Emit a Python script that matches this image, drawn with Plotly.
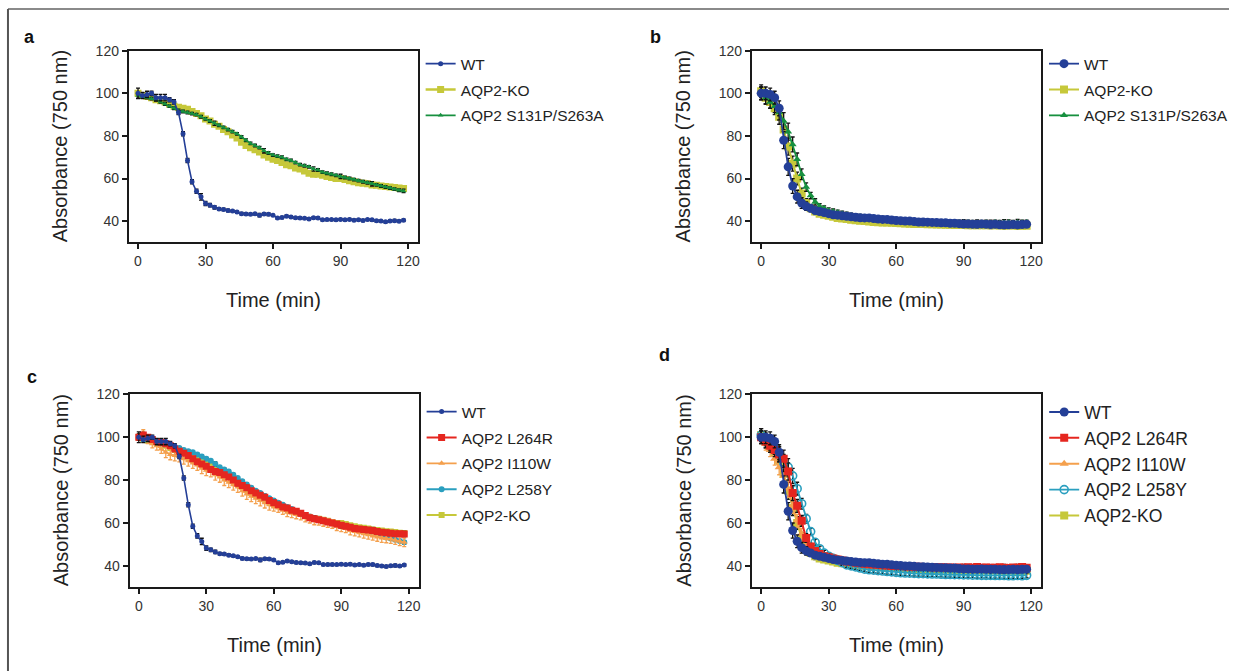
import plotly.graph_objects as go

# ---------------- data ----------------
time_min = [0, 2, 4, 6, 8, 10, 12, 14, 16, 18, 20, 22, 24, 26, 28, 30, 32, 34, 36, 38,
            40, 42, 44, 46, 48, 50, 52, 54, 56, 58, 60, 62, 64, 66, 68, 70, 72, 74, 76, 78,
            80, 82, 84, 86, 88, 90, 92, 94, 96, 98, 100, 102, 104, 106, 108, 110, 112, 114, 116, 118]

# panel a
a_wt = [100, 99, 99.5, 100, 98, 98, 98, 97, 96, 91,
        81, 68.5, 58.5, 54, 51.4, 48.3, 47.5, 46.5, 45.7, 45.5,
        45, 44.7, 44.3, 43.5, 43.3, 43.2, 43.4, 42.8, 43.3, 43.2,
        42.7, 41.5, 41.7, 42.3, 41.9, 41.6, 41.5, 41.3, 41.0, 41.6,
        41.5, 40.6, 40.7, 40.7, 40.6, 40.8, 40.6, 40.8, 40.4, 40.6,
        40.3, 40.7, 40.6, 40.2, 40.0, 39.7, 40.1, 40.2, 39.9, 40.4]
a_ko = [100, 99, 98.5, 98, 97, 96.5, 96, 95, 94, 93.5,
        93, 92.5, 91.5, 90.5, 89.5, 88, 87, 85.5, 84.5, 83,
        82, 80.5, 79, 77, 75.5, 74.5, 73.5, 72.5, 71, 70,
        69, 68.5, 67.5, 66.5, 66, 65, 64.5, 63.5, 62.5, 62,
        62, 61.5, 61, 60.5, 60, 60, 59.5, 59, 58.5, 58,
        57.8, 57.5, 57, 56.8, 56.5, 56.2, 56, 55.8, 55.5, 55.3]
a_s131p = [99, 98.5, 98, 97.5, 97, 96, 95, 94, 93, 92,
           91.5, 91, 90.5, 90, 89, 88, 87, 86, 85, 84,
           83, 82, 81, 79.5, 78, 76.5, 75.5, 74.5, 73, 72,
           71, 70.5, 70, 69, 68.5, 67.5, 66.5, 66, 65.5, 64.5,
           64, 63, 62.5, 62, 61.5, 61, 60.5, 60, 59.5, 59,
           58.5, 58, 57.5, 57, 56.5, 56, 55.5, 55, 54.5, 54.2]

# panel b
b_wt = [100, 100, 99.5, 98, 93, 78, 65.5, 56.5, 51.5, 48.5,
        47, 46, 45, 44.5, 44, 43.5, 43, 42.8, 42.5, 42.3,
        42, 41.8, 41.6, 41.5, 41.5, 41.2, 41, 40.8, 40.8, 40.5,
        40.3, 40.2, 40, 40, 39.8, 39.6, 39.6, 39.5, 39.4, 39.3,
        39.2, 39.2, 39, 39, 38.8, 38.6, 38.6, 38.5, 38.5, 38.6,
        38.5, 38.4, 38.5, 38.3, 38.3, 38.3, 38.4, 38.3, 38.4, 38.5]
b_ko = [101, 98, 96, 93, 89, 83, 75, 67, 60, 53,
        48.5, 46, 44.5, 43.5, 43, 42.5, 42, 41.5, 41.2, 41,
        40.6, 40.4, 40.2, 40, 39.8, 39.6, 39.5, 39.4, 39.3, 39.2,
        39.1, 39, 38.9, 38.8, 38.7, 38.6, 38.6, 38.5, 38.5, 38.4,
        38.4, 38.3, 38.3, 38.2, 38.2, 38.2, 38.1, 38.1, 38.1, 38,
        38, 38, 38, 37.9, 37.9, 37.9, 37.9, 37.8, 37.8, 37.8]
b_s131p = [100, 98, 96, 94, 91, 87, 82, 76, 69, 62,
           56, 52, 49, 47, 46, 45, 44.5, 44, 43.5, 43,
           42.5, 42.2, 42, 41.8, 41.5, 41.3, 41.1, 41, 40.8, 40.6,
           40.5, 40.3, 40.2, 40, 40, 39.8, 39.7, 39.6, 39.5, 39.5,
           39.4, 39.4, 39.3, 39.3, 39.2, 39.2, 39.2, 39.1, 39.1, 39.1,
           39.2, 39.0, 39.3, 39.1, 39.2, 39.4, 39.1, 39.3, 39.2, 39.3]

# panel c
c_wt = a_wt
c_ko = a_ko
c_l264r = [100, 101, 100, 99, 98, 97.5, 97, 96, 94.5, 93.5,
           92.5, 91.5, 90, 88.6, 87.5, 86.5, 85, 84, 83.5, 82.5,
           81.5, 80, 78.5, 77.5, 76.5, 75, 74, 73, 72, 70.5,
           69.5, 68.5, 67.5, 67, 66, 65.5, 64.5, 63.5, 62.5, 62,
           61.5, 61, 60.5, 60, 59.5, 59, 58.5, 58, 57.5, 57.2,
           57, 56.7, 56.5, 56, 55.7, 55.5, 55.2, 55, 55, 54.9]
c_i110w = [100, 102, 99, 97, 96, 94.5, 93, 92, 91.5, 91,
           90, 89, 88, 87, 85.5, 84.6, 84, 82.5, 81.5, 80,
           79, 77.8, 76.8, 75, 73.5, 72.5, 71.5, 70.5, 69.5, 68.5,
           67.5, 67, 66, 65, 64.5, 64, 63.5, 62.5, 62, 61.2,
           61, 60.5, 60, 59.5, 58.5, 58, 57.5, 56.5, 56, 55.5,
           55, 54.5, 54, 53.5, 53, 52.8, 52.5, 52, 51.5, 51]
c_l258y = [100, 99, 99, 98.5, 98, 97, 96.5, 96, 95.5, 95,
           94, 93.5, 93, 92, 91, 90, 89, 87.5, 86, 85,
           84, 82.5, 81, 79.5, 78, 76.5, 75, 74, 72.5, 71.5,
           70.5, 69.5, 68.5, 67.5, 66.5, 65.5, 64.5, 63.7, 63, 62.3,
           62, 61.3, 60.7, 60, 59.5, 59, 58.2, 57.6, 57, 56.5,
           56, 55.5, 55, 54.5, 54, 53.3, 52.8, 52.2, 51.6, 51]

# panel d
d_wt = b_wt
d_ko = b_ko
d_l264r = [100, 98, 96, 94, 92, 90, 84, 74, 68, 61,
           53, 49, 47, 45.5, 44.5, 44, 43.5, 43, 42.5, 42,
           41.8, 41.5, 41.2, 41, 40.8, 40.6, 40.5, 40.3, 40.2, 40,
           40, 39.9, 39.8, 39.7, 39.6, 39.6, 39.5, 39.5, 39.4, 39.4,
           39.4, 39.3, 39.3, 39.1, 39.3, 39.2, 39.4, 39.2, 39.5, 39.2,
           39.3, 39.1, 39.2, 39.4, 39.2, 39.0, 39.3, 39.2, 39.5, 39.1]
d_i110w = [100, 97, 94, 90, 86, 82, 76, 68, 61, 55,
           50, 47.5, 46, 45.5, 45, 44.5, 44, 43.5, 43, 42.5,
           42, 41.7, 41.4, 41.2, 41, 40.8, 40.6, 40.4, 40.2, 40,
           39.9, 39.8, 39.7, 39.6, 39.5, 39.4, 39.3, 39.2, 39.1, 39,
           39, 38.9, 38.9, 38.8, 38.8, 38.7, 38.7, 38.6, 38.6, 38.6,
           38.5, 38.5, 38.5, 38.4, 38.4, 38.4, 38.3, 38.3, 38.3, 38.3]
d_l258y = [101, 99, 97, 95, 92, 88, 86, 82, 76, 69,
           62, 56, 51, 48, 46, 44.5, 43.5, 42.5, 41.5, 40.5,
           40, 39.5, 39, 38.5, 38.2, 38, 37.8, 37.6, 37.4, 37.2,
           37, 36.8, 36.7, 36.6, 36.5, 36.4, 36.4, 36.3, 36.2, 36.2,
           36.1, 36, 36, 35.9, 35.9, 35.8, 35.8, 35.7, 35.7, 35.6,
           35.6, 35.6, 35.5, 35.5, 35.5, 35.4, 35.4, 35.5, 35.4, 35.6]

# error bars (SEM)
err_slow_wt = [2.5, 1.5, 1.5, 1, 1.5, 1.5, 1.5, 1, 1, 1,
               1, 1, 1, 1, 1.5, 1, 0.8, 0.8, 0.6, 0.6,
               0.6, 0.5, 0.5, 0.6, 0.6, 0.5, 0.5, 0.8, 0.5, 0.6,
               0.5, 0.5, 0.5, 0.5, 0.5, 0.5, 0.5, 0.5, 0.5, 0.5,
               0.5, 0.5, 0.5, 0.5, 0.5, 0.5, 0.5, 0.5, 0.5, 0.5,
               0.5, 0.5, 0.6, 0.5, 0.5, 0.5, 0.5, 0.6, 0.5, 0.5]
err_slow_mut = [1.2, 0.8, 0.6, 0.6, 0.6, 0.6, 0.6, 0.6, 0.6, 0.6,
                0.6, 0.6, 0.6, 0.6, 0.6, 0.6, 0.6, 1.0, 0.6, 0.6,
                0.6, 0.6, 0.6, 0.6, 0.6, 0.6, 0.6, 0.6, 1.0, 0.6,
                0.6, 0.6, 0.6, 0.6, 0.6, 0.6, 0.6, 0.6, 0.6, 1.0,
                0.6, 0.6, 0.6, 0.6, 0.6, 1.0, 0.6, 0.6, 0.6, 0.6,
                0.6, 0.6, 1.0, 0.6, 0.6, 0.6, 0.6, 0.6, 0.6, 0.8]
err_red = [1.5, 1.2, 1, 1, 1, 1, 1, 1, 1, 1,
           1, 1, 1, 1, 1, 1, 1, 1, 1, 1,
           1, 1, 1, 1, 1, 1, 1, 1, 1, 1,
           1, 1, 1, 1, 1, 1, 1, 1, 1, 1.2,
           1, 1, 1, 1, 1, 1.2, 1, 1, 1, 1,
           1, 1, 1, 1, 1, 1, 1, 1, 1, 1.2]
err_orange = [1.5, 1.5, 2, 2, 2, 2, 2.5, 2.5, 2.5, 2.5,
              2.5, 2.5, 2.5, 2.5, 2.5, 2.5, 2.5, 2.5, 2.5, 2.5,
              2.5, 2.5, 2.5, 2.5, 2.5, 2.5, 2.5, 2.5, 2.5, 2.5,
              2, 2, 2, 2, 2, 2, 2, 2, 2, 2,
              2, 2, 2, 2, 2, 2, 2, 2, 2, 2,
              2, 2, 2, 2, 2, 2, 2, 2, 2, 2]
err_fast = [3, 3, 3, 3, 3.5, 4, 4, 3.5, 3, 2.5,
            2, 1.5, 1.5, 1.2, 1.2, 1.2, 1.2, 1.2, 1.2, 1.2,
            1.2, 1.2, 1.2, 1.2, 1.2, 1.2, 1.2, 1.2, 1.2, 1.2,
            1.2, 1.2, 1.2, 1.2, 1.2, 1.2, 1.2, 1.2, 1.2, 1.2,
            1.2, 1.2, 1.2, 1.2, 1.2, 1.5, 1.2, 1.2, 1.5, 1.2,
            1.2, 1.5, 1.2, 1.2, 1.5, 1.2, 1.2, 1.5, 1.2, 1.2]

# ---------------- styling ----------------
W, H = 1233, 671
Y_OFF = 8                 # observed vertical offset of the figure in the page
Y_SCALE = 671.0 / 679.0   # observed vertical compression of the captured page
FONT = "Liberation Sans, Arial, Helvetica, sans-serif"
C_WT = "#243f97"
C_KO = "#c6c83a"
C_GREEN = "#17903f"
C_RED = "#e5261f"
C_ORANGE = "#f4a04d"
C_TEAL = "#2a9fbf"


def px_x(p):
    return p / W


def px_y(p):
    # p is the wanted position in the captured picture (px from the top)
    fig_px = p / Y_SCALE - Y_OFF
    return 1 - fig_px / H


panels = {
    # name: (left, right, top, bottom) in picture px
    "a": (129.2, 419.3, 50.7, 241.7),
    "b": (754.4, 1044.4, 50.7, 241.7),
    "c": (130.0, 420.0, 394.3, 586.7),
    "d": (754.4, 1044.4, 394.3, 586.7),
}
axis_ids = {"a": ("x", "y"), "b": ("x2", "y2"), "c": ("x3", "y3"), "d": ("x4", "y4")}
legend_ids = {"a": "legend", "b": "legend2", "c": "legend3", "d": "legend4"}

fig = go.Figure()


def add(panel, name, y, err, color, symbol, size, lw, rank, open_marker=False, err_color="#111111"):
    xa, ya = axis_ids[panel]
    marker = dict(color=color, symbol=symbol, size=size, line=dict(width=0))
    if open_marker:
        marker = dict(color=color, symbol=symbol, size=size, line=dict(width=1.6, color=color))
    fig.add_trace(go.Scatter(
        x=time_min, y=y, name=name, mode="lines+markers",
        xaxis=xa, yaxis=ya,
        line=dict(color=color, width=lw),
        marker=marker,
        error_y=dict(type="data", array=err, visible=True, color=err_color,
                     thickness=1.3, width=2),
        legend=legend_ids[panel], legendrank=rank,
        legendgroup=panel + name,
    ))


# panel a (draw order: KO, S131P, WT on top)
add("a", "AQP2-KO", a_ko, err_slow_mut, C_KO, "square", 7, 2.5, 2)
add("a", "AQP2 S131P/S263A", a_s131p, err_slow_mut, C_GREEN, "triangle-up", 5, 1.6, 3)
add("a", "WT", a_wt, err_slow_wt, C_WT, "circle", 5, 1.6, 1)

# panel b
add("b", "AQP2-KO", b_ko, err_fast, C_KO, "square", 8, 2, 2)
add("b", "AQP2 S131P/S263A", b_s131p, err_fast, C_GREEN, "triangle-up", 7, 1.8, 3)
add("b", "WT", b_wt, err_fast, C_WT, "circle", 9, 1.8, 1)

# panel c
add("c", "AQP2-KO", c_ko, err_slow_mut, C_KO, "square", 6, 2, 5)
add("c", "AQP2 L258Y", c_l258y, err_slow_mut, C_TEAL, "circle", 6, 2, 4)
add("c", "AQP2 I110W", c_i110w, err_orange, C_ORANGE, "triangle-up", 6, 1.8, 3, err_color=C_ORANGE)
add("c", "AQP2 L264R", c_l264r, err_red, C_RED, "square", 7, 2, 2)
add("c", "WT", c_wt, err_slow_wt, C_WT, "circle", 5, 1.6, 1)

# panel d
add("d", "AQP2-KO", d_ko, err_fast, C_KO, "square", 8, 2, 5)
add("d", "AQP2 I110W", d_i110w, err_fast, C_ORANGE, "triangle-up", 8, 2, 3, err_color=C_ORANGE)
add("d", "AQP2 L258Y", d_l258y, err_fast, C_TEAL, "circle-open", 8, 1.8, 4, open_marker=True)
add("d", "AQP2 L264R", d_l264r, err_fast, C_RED, "square", 8, 2, 2)
add("d", "WT", d_wt, err_fast, C_WT, "circle", 9, 1.8, 1)

layout = dict(
    width=W, height=H,
    margin=dict(l=0, r=0, t=0, b=0),
    paper_bgcolor="white", plot_bgcolor="white",
    font=dict(family=FONT, color="#222222"),
    showlegend=True,
)

axis_common_x = dict(
    range=[-4.1, 124.4], tickvals=[0, 30, 60, 90, 120],
    showline=True, linecolor="#1a1a1a", linewidth=2, mirror=True,
    ticks="outside", ticklen=5, tickwidth=1.5, tickcolor="#1a1a1a",
    showgrid=False, zeroline=False,
    tickfont=dict(size=14, color="#333333", family=FONT),
)
axis_common_y = dict(
    range=[30.3, 120], tickvals=[40, 60, 80, 100, 120],
    showline=True, linecolor="#1a1a1a", linewidth=2, mirror=True,
    ticks="outside", ticklen=5, tickwidth=1.5, tickcolor="#1a1a1a",
    showgrid=False, zeroline=False,
    tickfont=dict(size=14, color="#333333", family=FONT),
)

annotations = []
legend_font = {"a": 15.5, "b": 15.5, "c": 15.5, "d": 17.6}
legend_gap = {"a": 2.7, "b": 2.7, "c": 2.7, "d": 0}
legend_top = {"a": 47, "b": 47, "c": 395, "d": 394}
legend_left = {"a": 422, "b": 1047.6, "c": 423, "d": 1047.6}
letters = {"a": (30, 37), "b": (658, 37), "c": (32, 377), "d": (667, 355)}

for i, (p, (l, r, t, b)) in enumerate(panels.items()):
    suffix = "" if i == 0 else str(i + 1)
    ax = dict(axis_common_x)
    ax["domain"] = [px_x(l), px_x(r)]
    ax["anchor"] = "y" + suffix
    ay = dict(axis_common_y)
    ay["domain"] = [px_y(b), px_y(t)]
    ay["anchor"] = "x" + suffix
    layout["xaxis" + suffix] = ax
    layout["yaxis" + suffix] = ay

    layout[legend_ids[p]] = dict(
        x=px_x(legend_left[p]), xanchor="left", y=px_y(legend_top[p]), yanchor="top",
        bgcolor="rgba(0,0,0,0)", borderwidth=0,
        font=dict(size=legend_font[p], family=FONT, color="#222222"),
        tracegroupgap=legend_gap[p], itemwidth=30,
    )

    # axis titles
    annotations.append(dict(
        text="Absorbance (750 nm)", textangle=-90, showarrow=False,
        xref="paper", yref="paper", x=px_x(l - 69), y=px_y((t + b) / 2),
        xanchor="center", yanchor="middle",
        font=dict(size=20, family=FONT, color="#222222"),
    ))
    annotations.append(dict(
        text="Time (min)", showarrow=False,
        xref="paper", yref="paper", x=px_x((l + r) / 2), y=px_y(b + 58.5),
        xanchor="center", yanchor="middle",
        font=dict(size=20, family=FONT, color="#222222"),
    ))
    lx, ly = letters[p]
    annotations.append(dict(
        text="<b>%s</b>" % p, showarrow=False,
        xref="paper", yref="paper", x=px_x(lx), y=px_y(ly),
        xanchor="center", yanchor="middle",
        font=dict(size=18, family=FONT, color="#111111"),
    ))

layout["annotations"] = annotations
layout["shapes"] = [
    dict(type="line", xref="paper", yref="paper", x0=px_x(8), x1=1, y0=px_y(9), y1=px_y(9),
         line=dict(color="#8a8a8a", width=2)),
    dict(type="line", xref="paper", yref="paper", x0=px_x(8), x1=px_x(8), y0=px_y(9), y1=0,
         line=dict(color="#555555", width=2)),
]

fig.update_layout(**layout)
fig.write_html(
    "out.html",
    config={"displayModeBar": False},
    post_script="document.body.style.margin='0';document.body.style.overflow='hidden';",
)
